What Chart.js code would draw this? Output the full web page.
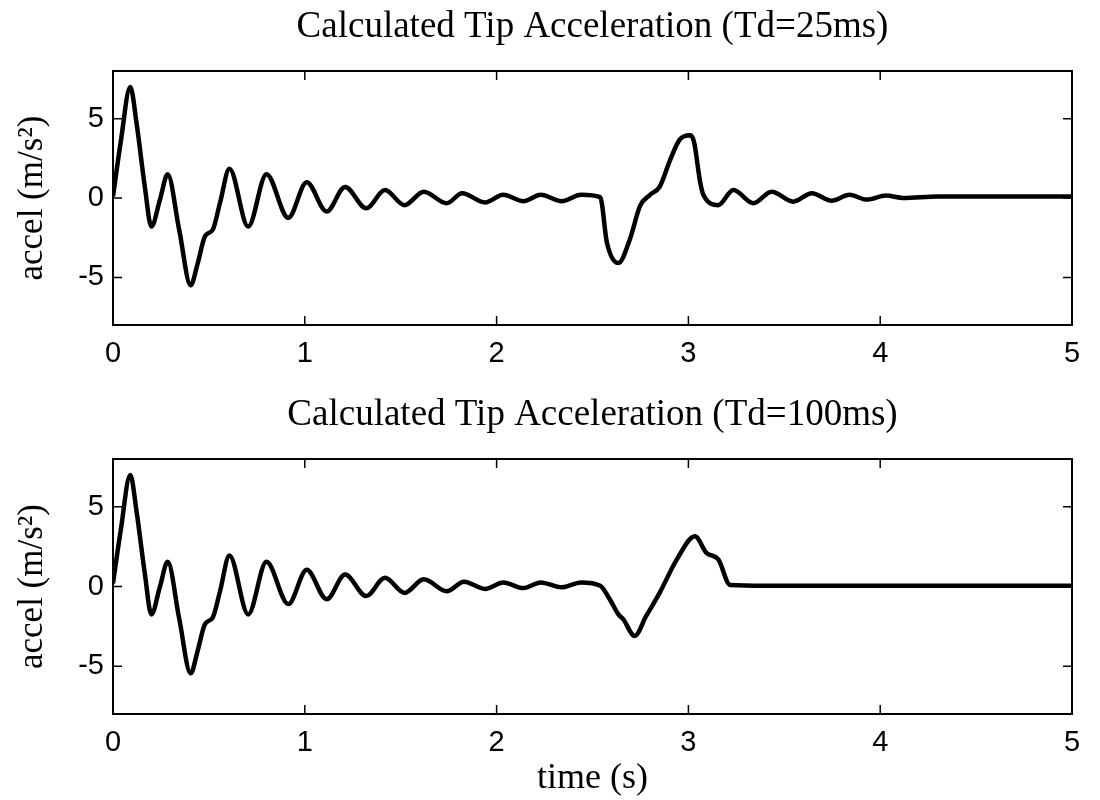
<!DOCTYPE html>
<html>
<head>
<meta charset="utf-8">
<script src="https://cdn.jsdelivr.net/npm/chart.js@4/dist/chart.umd.min.js"></script>
<style>
  body { margin: 0; background: #fff; }
  #wrap { position: relative; width: 1100px; height: 800px; }
  #topChart { position: absolute; left: 0; top: 0; }
  #bottomChart { position: absolute; left: 0; top: 388px; }
</style>
</head>
<body>
<div id="wrap">
  <canvas id="topChart" width="1100" height="388"></canvas>
  <canvas id="bottomChart" width="1100" height="412"></canvas>
</div>
<script>
// values
const timeTop = [0, 0.04, 0.09, 0.123, 0.166, 0.2, 0.245, 0.285, 0.345, 0.405, 0.44, 0.48, 0.52, 0.558,
  0.607, 0.705, 0.8, 0.914, 1.01, 1.114, 1.21, 1.32, 1.418, 1.52, 1.62, 1.74, 1.82, 1.94, 2.035, 2.14,
  2.23, 2.34, 2.44, 2.54, 2.575, 2.635, 2.695, 2.748, 2.8, 2.85, 2.905, 2.956, 3.01, 3.03, 3.06, 3.078,
  3.156, 3.234, 3.339, 3.434, 3.547, 3.643, 3.747, 3.84, 3.93, 4.03, 4.12, 4.3, 4.5, 4.7, 4.9, 5.0];
const accelTop = [0.1, 3.5, 7.0, 4.7, 0.7, -1.8, -0.1, 1.5, -2.0, -5.5, -4.2, -2.4, -2.0, -0.3,
  1.85, -1.8, 1.5, -1.25, 1.0, -0.85, 0.7, -0.65, 0.5, -0.45, 0.4, -0.33, 0.3, -0.28, 0.2, -0.2,
  0.2, -0.2, 0.2, 0.05, -2.8, -4.1, -2.6, -0.5, 0.2, 0.7, 2.4, 3.7, 3.95, 3.5, 1.1, 0.2,
  -0.45, 0.5, -0.33, 0.4, -0.23, 0.3, -0.17, 0.2, -0.1, 0.15, 0.0, 0.1, 0.1, 0.1, 0.1, 0.1];

const timeBottom = [0, 0.04, 0.09, 0.123, 0.166, 0.2, 0.245, 0.285, 0.345, 0.405, 0.44, 0.48, 0.52, 0.558,
  0.607, 0.705, 0.8, 0.914, 1.01, 1.114, 1.21, 1.32, 1.418, 1.52, 1.62, 1.74, 1.83, 1.94, 2.035, 2.14,
  2.23, 2.34, 2.44, 2.54, 2.59, 2.635, 2.66, 2.72, 2.78, 2.85, 2.94, 3.034, 3.095, 3.156, 3.217,
  3.4, 3.8, 4.2, 4.6, 5.0];
const accelBottom = [0.2, 3.5, 7.0, 4.7, 0.8, -1.75, 0.0, 1.55, -2.0, -5.45, -4.1, -2.35, -1.95, -0.3,
  1.95, -1.75, 1.55, -1.1, 1.05, -0.8, 0.75, -0.6, 0.55, -0.4, 0.45, -0.3, 0.3, -0.15, 0.25, -0.1,
  0.25, -0.05, 0.25, 0.05, -0.8, -1.75, -2.05, -3.1, -1.85, -0.4, 1.7, 3.15, 2.1, 1.7, 0.1,
  0.05, 0.05, 0.05, 0.05, 0.05];

const xTicks = [0, 1, 2, 3, 4, 5];
const yTicks = [-5, 0, 5];
const titles = ["Calculated Tip Acceleration (Td=25ms)", "Calculated Tip Acceleration (Td=100ms)"];
const yLabel = "accel (m/s\u00B2)";
const xLabel = "time (s)";

const serif = "'Liberation Serif', 'Times New Roman', serif";
const sans = "'Liberation Sans', Arial, sans-serif";

// box around the plot with short inward ticks, matlab style
const frameTicks = {
  id: "frameTicks",
  afterDatasetsDraw(chart) {
    const { ctx, chartArea: a, scales: { x, y } } = chart;
    ctx.save();
    ctx.strokeStyle = "#000";
    ctx.lineWidth = 2;
    ctx.strokeRect(a.left, a.top, a.width, a.height);
    ctx.lineWidth = 1.5;
    ctx.beginPath();
    xTicks.forEach((v) => {
      const px = x.getPixelForValue(v);
      ctx.moveTo(px, a.top); ctx.lineTo(px, a.top + 9);
      ctx.moveTo(px, a.bottom); ctx.lineTo(px, a.bottom - 9);
    });
    yTicks.forEach((v) => {
      const py = y.getPixelForValue(v);
      ctx.moveTo(a.left, py); ctx.lineTo(a.left + 9, py);
      ctx.moveTo(a.right, py); ctx.lineTo(a.right - 9, py);
    });
    ctx.stroke();
    ctx.restore();
  }
};

function makeChart(id, times, values, title, xAxisHeight, showXLabel) {
  return new Chart(document.getElementById(id), {
    type: "line",
    data: {
      datasets: [{
        data: times.map((t, i) => ({ x: t, y: values[i] })),
        borderColor: "#000",
        borderWidth: 4.5,
        pointRadius: 0,
        cubicInterpolationMode: "monotone"
      }]
    },
    options: {
      responsive: false,
      animation: false,
      layout: { padding: { left: 0, right: 28, top: 0, bottom: 0 } },
      plugins: {
        legend: { display: false },
        tooltip: { enabled: false },
        title: {
          display: true,
          text: title,
          fullSize: false,
          color: "#000",
          font: { family: serif, size: 37, weight: "normal" },
          padding: { top: 5, bottom: 21.6 }
        }
      },
      scales: {
        x: {
          type: "linear",
          min: 0,
          max: 5,
          grid: { display: false, drawTicks: false },
          border: { display: false },
          afterBuildTicks: (s) => { s.ticks = xTicks.map((v) => ({ value: v })); },
          afterFit: (s) => { s.height = xAxisHeight; },
          ticks: { color: "#000", padding: 12, maxRotation: 0, font: { family: sans, size: 29 } },
          title: {
            display: showXLabel,
            text: xLabel,
            color: "#000",
            font: { family: serif, size: 36 },
            padding: { top: 0, bottom: 0 }
          }
        },
        y: {
          min: -8,
          max: 8,
          grid: { display: false, drawTicks: false },
          border: { display: false },
          afterBuildTicks: (s) => { s.ticks = yTicks.map((v) => ({ value: v })); },
          afterFit: (s) => { s.width = 113; },
          ticks: { color: "#000", padding: 9, font: { family: sans, size: 29 } },
          title: {
            display: true,
            text: yLabel,
            color: "#000",
            font: { family: serif, size: 35 },
            padding: { top: 12, bottom: 0 }
          }
        }
      }
    },
    plugins: [frameTicks]
  });
}

makeChart("topChart", timeTop, accelTop, titles[0], 63, false);
makeChart("bottomChart", timeBottom, accelBottom, titles[1], 86, true);
</script>
</body>
</html>
